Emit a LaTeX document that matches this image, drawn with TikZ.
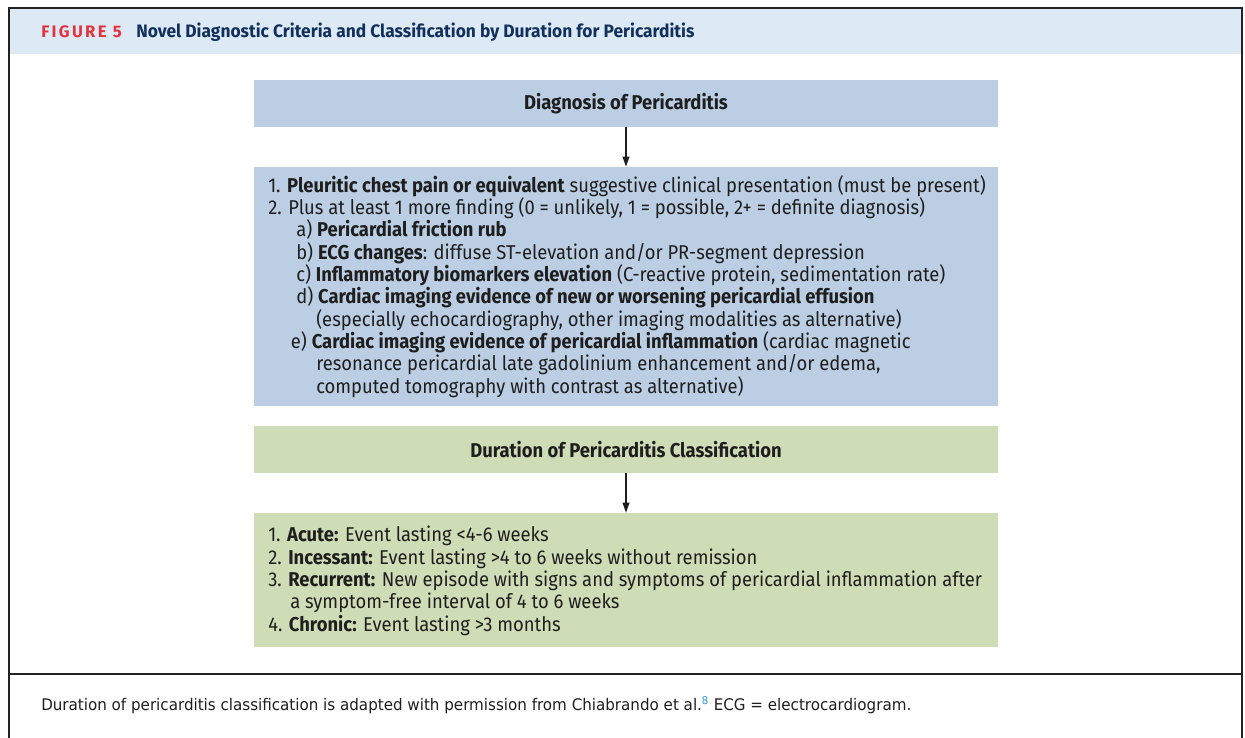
\documentclass[tikz,border=0pt]{standalone}
\usepackage{fontspec}
\usetikzlibrary{arrows.meta}
\setmainfont{Fira Sans}
\newfontfamily\bodyfont{Fira Sans}[FakeStretch=0.92]
\newfontfamily\titlefont{Fira Sans}[FakeStretch=0.965]
\newfontfamily\figfont{Fira Sans}[FakeStretch=1.0,LetterSpace=14]
\newfontfamily\capfont{DejaVu Sans}[FakeStretch=0.945]
\definecolor{hdrband}{HTML}{DDE9F5}
\definecolor{bluebox}{HTML}{BBCEE3}
\definecolor{greenbox}{HTML}{CFDDB7}
\definecolor{figred}{HTML}{E2343C}
\definecolor{navy}{HTML}{12305C}
\definecolor{ink}{HTML}{1E1E1E}
\definecolor{frame}{HTML}{222222}
\definecolor{refblue}{HTML}{3399CC}
\tikzset{
  boxb/.style={fill=bluebox, draw=none, minimum width=558pt, inner sep=0pt},
  boxg/.style={fill=greenbox, draw=none, minimum width=558pt, inner sep=0pt},
  hdrtext/.style={font=\bodyfont\fontsize{15}{16}\selectfont\bfseries, text=ink},
  listtext/.style={anchor=north west, inner sep=0pt, align=left, text=ink,
    font=\bodyfont\fontsize{15}{16.75}\selectfont},
  arr/.style={draw=ink, line width=1pt, -{Triangle[length=7.5pt,width=5pt]}},
  frameline/.style={draw=frame, line width=1.6pt}
}
\begin{document}
\begin{tikzpicture}[x=0.75pt,y=-0.75pt]
\useasboundingbox (0,0) rectangle (1245,738);
% header band
\fill[hdrband] (9,8) rectangle (1242,54);
\draw[frameline] (9,738) -- (9,8) -- (1242,8) -- (1242,738);
\draw[frameline] (9,674) -- (1242,674);
\node[anchor=base west, inner sep=0pt, font=\figfont\fontsize{12.5}{14}\selectfont\bfseries, text=figred] (fig) at (41,38) {FIGURE 5};
\node[anchor=base west, inner sep=0pt, font=\titlefont\fontsize{13.5}{15}\selectfont\bfseries, text=navy] (title) at (136,38) {Novel Diagnostic Criteria and Classification by Duration for Pericarditis};
% boxes
\node[boxb, minimum height=35.25pt] (b1) at (626,103.5) {};
\node[hdrtext] (b1t) at (626,103.5) {Diagnosis of Pericarditis};
\node[boxb, minimum height=179.25pt] (b2) at (626,286.5) {};
\node[listtext] (b2t) at (268,175) {%
1. \textbf{Pleuritic chest pain or equivalent} suggestive clinical presentation (must be present)\\
2. Plus at least 1 more finding (0 = unlikely, 1 = possible, 2+ = definite diagnosis)\\
\hspace*{21pt}a) \textbf{Pericardial friction rub}\\
\hspace*{21pt}b) \textbf{ECG changes}: diffuse ST-elevation and/or PR-segment depression\\
\hspace*{21pt}c) \textbf{Inflammatory biomarkers elevation} (C-reactive protein, sedimentation rate)\\
\hspace*{21pt}d) \textbf{Cardiac imaging evidence of new or worsening pericardial effusion}\\
\hspace*{36pt}(especially echocardiography, other imaging modalities as alternative)\\
\hspace*{17pt}e) \textbf{Cardiac imaging evidence of pericardial inflammation} (cardiac magnetic\\
\hspace*{36pt}resonance pericardial late gadolinium enhancement and/or edema,\\
\hspace*{36pt}computed tomography with contrast as alternative)};
\node[boxg, minimum height=35.25pt] (b3) at (626,449.5) {};
\node[hdrtext] (b3t) at (626,449.5) {Duration of Pericarditis Classification};
\node[boxg, minimum height=100.5pt] (b4) at (626,580) {};
\node[listtext] (b4t) at (268,526) {%
1. \textbf{Acute:} Event lasting <4-6 weeks\\
2. \textbf{Incessant:} Event lasting >4 to 6 weeks without remission\\
3. \textbf{Recurrent:} New episode with signs and symptoms of pericardial inflammation after\\
\hspace*{16.5pt}a symptom-free interval of 4 to 6 weeks\\
4. \textbf{Chronic:} Event lasting >3 months};
% arrows
\draw[arr] (b1.south) -- (b2.north);
\draw[arr] (b3.south) -- (b4.north);
% caption
\node[anchor=base west, inner sep=0pt, font=\capfont\fontsize{12}{14}\selectfont, text=ink] (cap) at (41,710) {Duration of pericarditis classification is adapted with permission from Chiabrando et al.\textsuperscript{\textcolor{refblue}{8}} ECG = electrocardiogram.};
\end{tikzpicture}
\end{document}
